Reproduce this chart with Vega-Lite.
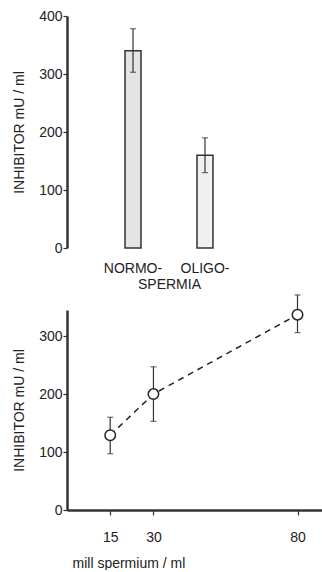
{
  "$schema": "https://vega.github.io/schema/vega-lite/v6.json",
  "padding": {"left": 12, "top": 9, "right": 0, "bottom": 0},
  "background": "white",
  "spacing": 3,
  "config": {
    "view": {"stroke": null},
    "font": "Liberation Sans",
    "axis": {
      "grid": false,
      "domainColor": "#333",
      "domainWidth": 2.5,
      "tickColor": "#333",
      "tickWidth": 1.2,
      "tickSize": 4,
      "labelColor": "#222",
      "labelFontSize": 14,
      "labelPadding": 1,
      "titleColor": "#222",
      "titleFontSize": 14,
      "titleFontWeight": "normal",
      "titlePadding": 12
    }
  },
  "vconcat": [
    {
      "width": 204,
      "height": 232,
      "data": {"values": [
        {"group": "NORMO-", "mean": 340, "lo": 303, "hi": 378},
        {"group": "OLIGO-", "mean": 160, "lo": 130, "hi": 190}
      ]},
      "encoding": {
        "x": {
          "field": "group", "type": "nominal",
          "scale": {"paddingInner": 0.778, "paddingOuter": 0.806},
          "axis": {"title": "SPERMIA", "labelAngle": 0, "domain": false, "ticks": false, "labelPadding": 13, "titlePadding": 2}
        }
      },
      "layer": [
        {
          "mark": {"type": "bar", "stroke": "#333", "strokeWidth": 1.5},
          "encoding": {
            "y": {"field": "mean", "type": "quantitative", "scale": {"domain": [0, 400], "nice": false},
                  "axis": {"values": [0, 100, 200, 300, 400], "title": "INHIBITOR  mU / ml"}},
            "fill": {"field": "group", "type": "nominal", "scale": {"range": ["#e4e4e4", "#f0f0f0"]}, "legend": null}
          }
        },
        {
          "mark": {"type": "rule", "color": "#333", "strokeWidth": 1.2},
          "encoding": {"y": {"field": "lo", "type": "quantitative"}, "y2": {"field": "hi"}}
        },
        {
          "mark": {"type": "tick", "orient": "horizontal", "color": "#333", "size": 6, "thickness": 1.2},
          "encoding": {"y": {"field": "lo", "type": "quantitative"}}
        },
        {
          "mark": {"type": "tick", "orient": "horizontal", "color": "#333", "size": 6, "thickness": 1.2},
          "encoding": {"y": {"field": "hi", "type": "quantitative"}}
        }
      ]
    },
    {
      "width": 255,
      "height": 200,
      "data": {"values": [
        {"spermium": 15, "inhibitor": 129, "lo": 97, "hi": 160},
        {"spermium": 30, "inhibitor": 200, "lo": 153, "hi": 247},
        {"spermium": 80, "inhibitor": 337, "lo": 306, "hi": 371}
      ]},
      "encoding": {
        "x": {
          "field": "spermium", "type": "quantitative",
          "scale": {"domain": [0, 88.5], "nice": false, "zero": false},
          "axis": {"values": [15, 30, 80], "title": "mill   spermium / ml", "tickSize": 5, "labelPadding": 15, "titlePadding": 12, "titleAnchor": "start", "titleAlign": "left", "titleX": 5}
        }
      },
      "layer": [
        {
          "mark": {"type": "line", "color": "#222", "strokeWidth": 1.5, "strokeDash": [6, 5]},
          "encoding": {
            "y": {"field": "inhibitor", "type": "quantitative", "scale": {"domain": [0, 345], "nice": false},
                  "axis": {"values": [0, 100, 200, 300], "title": "INHIBITOR  mU / ml"}}
          }
        },
        {
          "mark": {"type": "rule", "color": "#333", "strokeWidth": 1.2},
          "encoding": {"y": {"field": "lo", "type": "quantitative"}, "y2": {"field": "hi"}}
        },
        {
          "mark": {"type": "tick", "orient": "horizontal", "color": "#333", "size": 6, "thickness": 1.2},
          "encoding": {"y": {"field": "lo", "type": "quantitative"}}
        },
        {
          "mark": {"type": "tick", "orient": "horizontal", "color": "#333", "size": 6, "thickness": 1.2},
          "encoding": {"y": {"field": "hi", "type": "quantitative"}}
        },
        {
          "mark": {"type": "point", "shape": "circle", "filled": true, "fill": "white", "stroke": "#222", "strokeWidth": 1.5, "size": 110, "opacity": 1},
          "encoding": {"y": {"field": "inhibitor", "type": "quantitative"}}
        }
      ]
    }
  ]
}
